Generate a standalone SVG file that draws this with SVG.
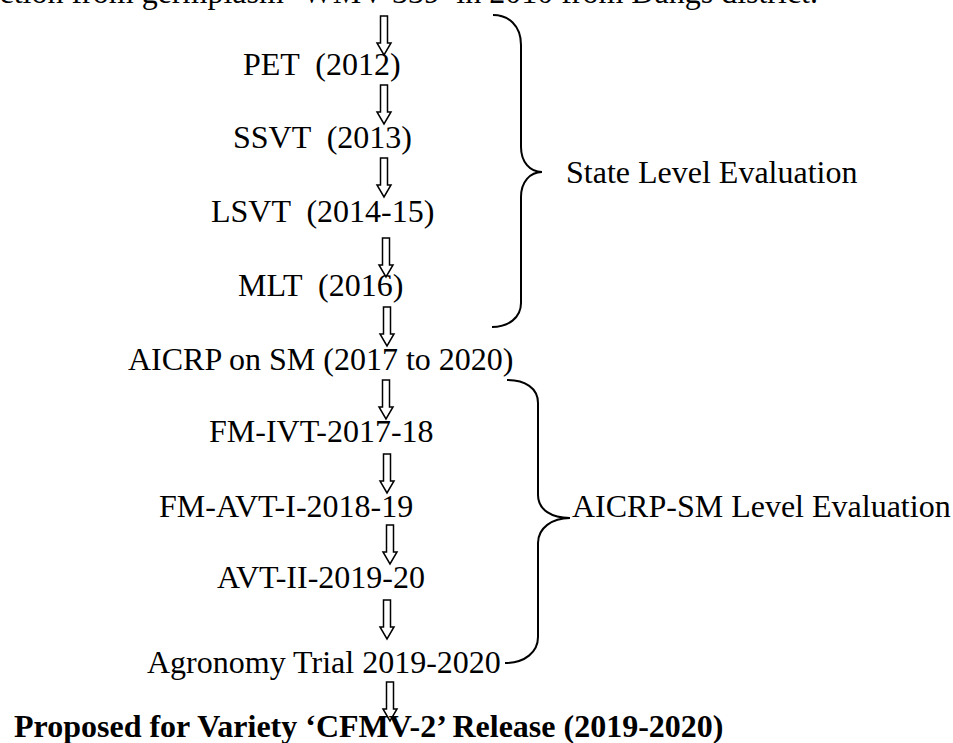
<svg xmlns="http://www.w3.org/2000/svg" xmlns:xlink="http://www.w3.org/1999/xlink" width="953" height="743" viewBox="0 0 953 743">
<style>
  text { font-family: "Liberation Serif", "Times New Roman", serif; font-size: 32px; fill: #000; white-space: pre; }
  .b { font-weight: bold; }
  .brace { fill: none; stroke: #000; stroke-width: 2; }
  .arr { fill: none; stroke: #000; stroke-width: 1.5; stroke-linejoin: miter; }
</style>
<defs>
  <path id="arr" class="arr" d="M-3.5,0 H3.5 V27 H7 L0,39 L-7,27 H-3.5 Z"/>
</defs>
<rect width="953" height="743" fill="#fff"/>
<g id="header"><text x="818" y="3" text-anchor="end">Selection from germplasm ‘WMV-339’ in 2010 from Dangs district.</text></g>
<g id="n-pet"><text x="243" y="75">PET  (2012)</text></g>
<g id="n-ssvt"><text x="233" y="148">SSVT  (2013)</text></g>
<g id="n-lsvt"><text x="211" y="222">LSVT  (2014-15)</text></g>
<g id="n-mlt"><text x="238" y="296">MLT  (2016)</text></g>
<g id="n-aicrp"><text x="128" y="370">AICRP on SM (2017 to 2020)</text></g>
<g id="n-fmivt"><text x="209" y="442">FM-IVT-2017-18</text></g>
<g id="n-fmavt"><text x="159" y="517">FM-AVT-I-2018-19</text></g>
<g id="n-avt2"><text x="217" y="588">AVT-II-2019-20</text></g>
<g id="n-agro"><text x="147" y="673">Agronomy Trial 2019-2020</text></g>
<g id="n-release"><text class="b" x="14" y="737">Proposed for Variety ‘CFMV-2’ Release (2019-2020)</text></g>
<g id="brace-state">
  <path class="brace" d="M493,15 C508,15 521,25 521,45 L521,147 C521,162 530,172 542,172 C530,172 521,182 521,197 L521,303 C521,318 508,327 492,327"/>
  <text x="566" y="183">State Level Evaluation</text>
</g>
<g id="brace-aicrp">
  <path class="brace" d="M507,380 C525,380 538,388 538,403 L538,495 C538,510 552,518 570,518 C552,518 538,528 538,543 L538,637 C538,652 525,663 505,663"/>
  <text x="572" y="517">AICRP-SM Level Evaluation</text>
</g>
<g id="connectors">
  <use xlink:href="#arr" x="384" y="16"/>
  <use xlink:href="#arr" x="384" y="85"/>
  <use xlink:href="#arr" x="384" y="158"/>
  <use xlink:href="#arr" x="386" y="238"/>
  <use xlink:href="#arr" x="387" y="307"/>
  <use xlink:href="#arr" x="386" y="380"/>
  <use xlink:href="#arr" x="387" y="454"/>
  <use xlink:href="#arr" x="390" y="525"/>
  <use xlink:href="#arr" x="387" y="600"/>
  <use xlink:href="#arr" x="390" y="682"/>
</g>
</svg>
